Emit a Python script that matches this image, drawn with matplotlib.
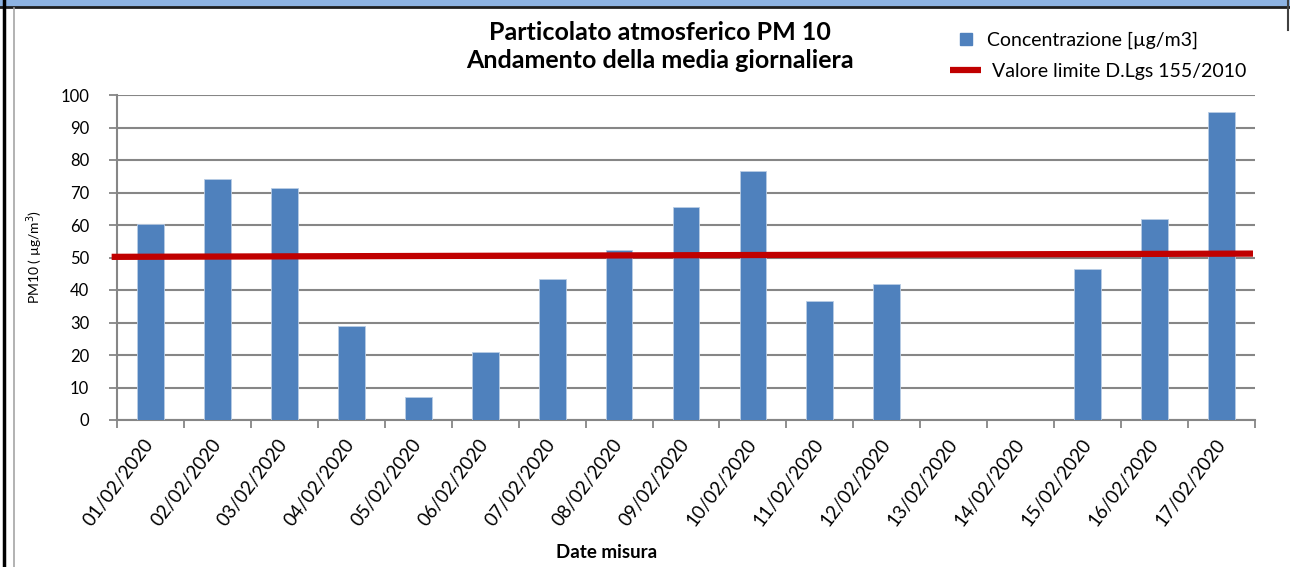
import matplotlib.pyplot as plt
import numpy as np
from matplotlib.patches import Rectangle
from matplotlib.lines import Line2D

plt.rcParams['font.family'] = ['Lato', 'DejaVu Sans']

# dati
date = ['01/02/2020', '02/02/2020', '03/02/2020', '04/02/2020', '05/02/2020',
        '06/02/2020', '07/02/2020', '08/02/2020', '09/02/2020', '10/02/2020',
        '11/02/2020', '12/02/2020', '13/02/2020', '14/02/2020', '15/02/2020',
        '16/02/2020', '17/02/2020']
pm10 = [60.3, 74.3, 71.5, 28.8, 7.2, 21.0, 43.4, 52.3, 65.4, 76.6,
        36.5, 41.8, 0, 0, 46.5, 61.9, 94.9]
limite = [50.2, 51.2]  # valore limite (inizio, fine linea)

blu = '#4F81BD'
rosso = '#C00000'
grigio = '#868686'

fig = plt.figure(figsize=(12.9, 5.67), dpi=100, facecolor='white')
ax = fig.add_axes([117 / 1290, 1 - 420 / 567, (1255 - 117) / 1290, (420 - 95) / 567])

x = np.arange(len(date))
ax.bar(x, pm10, width=0.4, color=blu, edgecolor='#B9CDE5', linewidth=0.6, zorder=3)
ax.plot([-0.58, len(date) - 0.53], limite, color=rosso, lw=4.5, solid_capstyle='butt',
        zorder=4, clip_on=False)

ax.set_xlim(-0.5, len(date) - 0.5)
ax.set_ylim(0, 100)
ax.set_yticks(np.arange(0, 101, 10))
ax.yaxis.grid(True, color=grigio, lw=1.5, zorder=0)
ax.set_axisbelow(True)

ax.set_xticks(x)
ax.set_xticklabels(date, rotation=53, ha='right', va='center', rotation_mode='anchor', fontsize=13.5)
ax.tick_params(axis='x', which='major', length=0, pad=15)
ax.set_xticks(np.arange(-0.5, len(date)), minor=True)
ax.tick_params(axis='x', which='minor', length=6, width=1.3, color=grigio, direction='out')
ax.tick_params(axis='y', length=6, width=1.3, color=grigio, labelsize=12, pad=14)

for s in ['top', 'right']:
    ax.spines[s].set_visible(False)
for s in ['left', 'bottom']:
    ax.spines[s].set_color(grigio)
    ax.spines[s].set_linewidth(1.5)

ax.set_ylabel('PM10 ( µg/m$^3$)', fontsize=10, labelpad=11)
fig.text(607 / 1290, 1 - 552 / 567, 'Date misura', ha='center', va='center',
         fontsize=13.5, fontweight='bold')

fig.text(660 / 1290, 1 - 32 / 567, 'Particolato atmosferico PM 10', ha='center', va='center',
         fontsize=18, fontweight='bold')
fig.text(660 / 1290, 1 - 61 / 567, 'Andamento della media giornaliera', ha='center', va='center',
         fontsize=18, fontweight='bold')

# legenda
h_bar = Line2D([], [], ls='none', marker='s', markersize=8.5, color=blu)
h_lim = Line2D([], [], color=rosso, lw=4.5, solid_capstyle='butt')
fig.legend([h_bar, h_lim], ['Concentrazione [µg/m3]', ' Valore limite D.Lgs 155/2010'],
           loc='upper left', bbox_to_anchor=(0.723, 0.975), frameon=False,
           fontsize=14, handlelength=1.6, labelspacing=0.7, handletextpad=0.3)

# cornice e banda superiore
fig.add_artist(Rectangle((0, 1 - 6 / 567), 1, 6 / 567, transform=fig.transFigure,
                         color='#8DB3E2', zorder=0))
fig.add_artist(Line2D([0, 1], [1 - 7 / 567] * 2, transform=fig.transFigure, color='#1F1F1F', lw=2))
fig.add_artist(Line2D([4 / 1290] * 2, [0, 1], transform=fig.transFigure, color='black', lw=2.5))
fig.add_artist(Line2D([14 / 1290] * 2, [0, 1 - 8 / 567], transform=fig.transFigure, color='#A6A6A6', lw=1.2))
fig.add_artist(Line2D([1288 / 1290] * 2, [1 - 30 / 567, 1], transform=fig.transFigure, color='#404040', lw=1.5))

fig.savefig('out.png', dpi=100)
